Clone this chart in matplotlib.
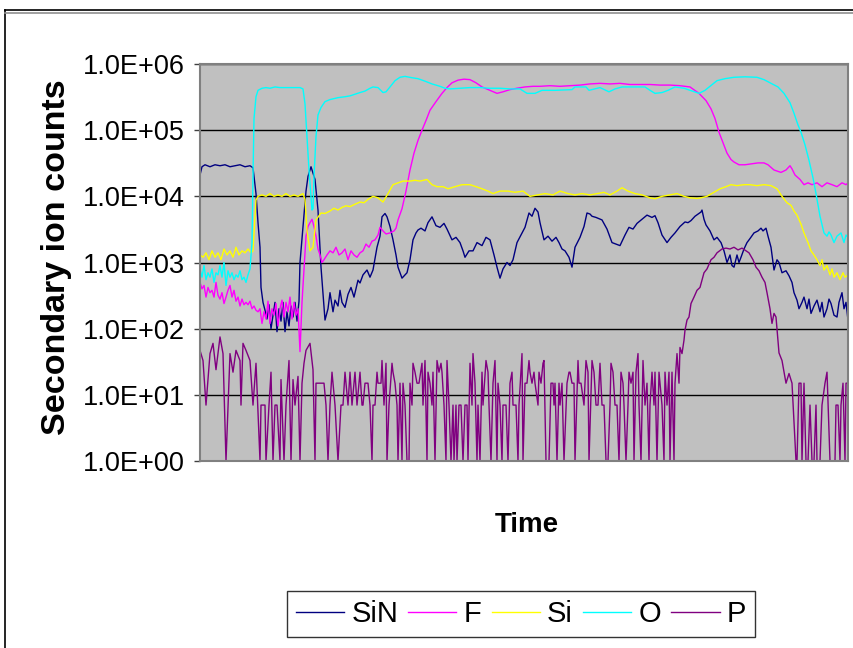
import matplotlib
matplotlib.use('Agg')
import matplotlib.pyplot as plt
from matplotlib.lines import Line2D
from matplotlib.ticker import FixedLocator

plt.rcParams['font.family'] = ['Liberation Sans', 'DejaVu Sans']

# (time, counts) read from the depth profile
sin_pts = [(0, 2.1e4), (2, 2.8e4), (5, 3.0e4), (10, 2.8e4), (15, 3.0e4), (20, 2.9e4), (25, 3.0e4), (30, 2.8e4),
           (35, 2.9e4), (40, 3.0e4), (45, 2.8e4), (50, 2.9e4), (53, 2.7e4), (56, 1.1e4), (58, 4e3), (60, 1.7e3),
           (61, 420), (63, 250), (65, 190), (67, 140), (69, 230), (71, 100), (73, 160), (75, 250), (77, 90),
           (79, 200), (81, 130), (83, 250), (85, 90), (87, 180), (89, 110), (91, 220), (93, 150), (95, 250),
           (97, 130), (99, 260), (100, 1000), (103, 3.4e3), (106, 1.2e4), (108, 2.0e4), (111, 2.8e4), (115, 1.8e4),
           (118, 6.2e3), (121, 850), (125, 135), (128, 200), (130, 350), (133, 180), (135, 270), (138, 220),
           (140, 380), (142, 250), (145, 210), (148, 330), (151, 420), (154, 300), (158, 540), (160, 490),
           (163, 650), (167, 770), (170, 600), (173, 770), (177, 1.7e3), (180, 2.5e3), (182, 4.9e3), (185, 5.5e3),
           (187, 4.9e3), (190, 3.5e3), (193, 2.2e3), (196, 1.3e3), (198, 850), (202, 580), (205, 650), (207, 700),
           (210, 1.1e3), (213, 2.2e3), (216, 2.8e3), (218, 3.1e3), (221, 3.3e3), (225, 3.0e3), (228, 4e3),
           (232, 4.9e3), (236, 3.6e3), (240, 3.4e3), (244, 3.9e3), (247, 3.2e3), (252, 2.2e3), (256, 2.4e3),
           (260, 2.0e3), (263, 1.5e3), (265, 1.2e3), (269, 1.5e3), (273, 1.5e3), (277, 2.0e3), (282, 1.8e3),
           (286, 2.4e3), (290, 2.2e3), (294, 1.3e3), (297, 850), (300, 580), (303, 800), (307, 1e3), (310, 900),
           (313, 1.1e3), (317, 2e3), (321, 2.6e3), (325, 3.4e3), (329, 5.6e3), (332, 5.0e3), (335, 6.6e3),
           (338, 5.8e3), (340, 4e3), (344, 2.2e3), (348, 2.5e3), (352, 2.1e3), (356, 2.4e3), (359, 2e3),
           (362, 1.6e3), (365, 1.5e3), (369, 1.2e3), (372, 850), (375, 1.7e3), (380, 2.4e3), (384, 3.5e3),
           (387, 5.6e3), (390, 5.4e3), (392, 5.0e3), (396, 4.8e3), (402, 4.4e3), (407, 3.2e3), (412, 2e3),
           (416, 1.9e3), (420, 1.8e3), (425, 2.6e3), (429, 3.4e3), (433, 3.2e3), (437, 3.9e3), (442, 4.5e3),
           (447, 5.2e3), (452, 4.8e3), (455, 5.1e3), (458, 4.0e3), (462, 2.6e3), (467, 2e3), (471, 2.4e3),
           (475, 2.8e3), (480, 3.5e3), (485, 4.1e3), (488, 4.0e3), (491, 4.3e3), (495, 5.0e3), (501, 5.8e3),
           (502, 6.2e3), (504, 4.5e3), (506, 3.7e3), (510, 3.0e3), (514, 2.2e3), (517, 2.4e3), (521, 2.0e3),
           (524, 1.5e3), (527, 1.0e3), (530, 1.3e3), (532, 900), (534, 850), (537, 1.3e3), (539, 1.0e3),
           (541, 1.2e3), (544, 1.6e3), (547, 2.0e3), (550, 2.3e3), (554, 2.8e3), (558, 3.0e3), (561, 3.3e3),
           (563, 3.0e3), (566, 3.3e3), (568, 2.5e3), (571, 1.7e3), (574, 770), (577, 1.1e3), (579, 1.0e3),
           (582, 700), (586, 750), (589, 630), (592, 500), (594, 350), (597, 270), (599, 200), (602, 250),
           (604, 300), (607, 200), (609, 280), (611, 170), (614, 220), (617, 270), (620, 180), (622, 250),
           (624, 150), (627, 200), (629, 280), (631, 240), (634, 160), (637, 150), (639, 250), (642, 350),
           (644, 200), (646, 250), (648, 135)]

f_pts = [(0, 500), (2, 400), (4, 450), (6, 300), (8, 420), (10, 350), (12, 380), (14, 300), (16, 500), (18, 320),
         (20, 280), (22, 350), (24, 240), (26, 300), (28, 380), (30, 450), (32, 300), (34, 380), (36, 260),
         (38, 300), (40, 220), (42, 280), (44, 230), (46, 250), (48, 230), (50, 260), (52, 200), (54, 220),
         (56, 190), (58, 180), (60, 200), (62, 120), (64, 180), (66, 140), (68, 260), (70, 120), (72, 200),
         (74, 160), (76, 240), (78, 110), (80, 200), (82, 270), (84, 150), (86, 250), (88, 180), (90, 300),
         (92, 140), (94, 250), (96, 160), (98, 200), (100, 45), (102, 250), (104, 800), (106, 2500), (108, 3500),
         (110, 4000), (112, 4500), (114, 3500), (116, 2500), (118, 1600), (120, 1300), (122, 1000), (124, 1100),
         (127, 1300), (130, 1500), (133, 1400), (136, 1700), (139, 1300), (142, 1400), (145, 1600), (148, 1100),
         (151, 1500), (154, 1300), (157, 1200), (160, 1400), (163, 1500), (166, 1900), (169, 1700), (172, 2100),
         (175, 2200), (178, 2600), (180, 3400), (183, 3000), (186, 2700), (190, 2800), (194, 3000), (196, 3300),
         (198, 4400), (202, 6500), (206, 1.2e4), (210, 2.5e4), (214, 4.5e4), (218, 7e4), (222, 1.0e5),
         (226, 1.4e5), (230, 2.0e5), (236, 2.7e5), (242, 3.6e5), (247, 4.4e5), (252, 5.2e5), (258, 5.7e5),
         (264, 5.9e5), (270, 5.8e5), (276, 5.2e5), (282, 4.5e5), (290, 4.0e5), (297, 3.6e5), (303, 3.8e5),
         (310, 4.1e5), (317, 4.3e5), (325, 4.5e5), (333, 4.6e5), (340, 4.6e5), (350, 4.7e5), (360, 4.6e5),
         (370, 4.7e5), (380, 4.8e5), (390, 5.0e5), (400, 5.1e5), (410, 5.0e5), (420, 5.1e5), (430, 4.9e5),
         (440, 4.9e5), (450, 4.9e5), (460, 4.8e5), (470, 4.8e5), (480, 4.7e5), (490, 4.5e5), (499, 3.6e5),
         (506, 2.8e5), (511, 2.1e5), (515, 1.5e5), (519, 9.3e4), (523, 6.5e4), (527, 4.5e4), (531, 3.6e4),
         (534, 3.3e4), (539, 3.0e4), (545, 3.0e4), (552, 3.1e4), (558, 3.2e4), (564, 3.2e4), (568, 3.0e4),
         (574, 2.5e4), (581, 2.3e4), (586, 2.5e4), (590, 2.9e4), (592, 2.6e4), (595, 2.1e4), (600, 1.8e4),
         (604, 1.5e4), (608, 1.6e4), (612, 1.5e4), (617, 1.6e4), (622, 1.4e4), (627, 1.6e4), (632, 1.5e4),
         (637, 1.4e4), (642, 1.6e4), (646, 1.5e4), (648, 1.6e4)]

si_pts = [(0, 1300), (3, 1200), (6, 1400), (9, 1100), (12, 1500), (15, 1200), (18, 1400), (21, 1100), (24, 1600),
          (27, 1300), (30, 1500), (33, 1200), (36, 1700), (39, 1300), (42, 1500), (45, 1400), (48, 1600),
          (51, 1400), (53, 1500), (55, 5000), (56, 8800), (58, 1.0e4), (62, 1.05e4), (66, 1.0e4), (70, 1.1e4),
          (74, 1.0e4), (78, 1.05e4), (82, 1.0e4), (86, 1.1e4), (90, 1.0e4), (94, 1.05e4), (98, 1.0e4),
          (103, 1.1e4), (105, 9e3), (107, 3e3), (110, 1.5e3), (113, 1.7e3), (116, 4.4e3), (121, 5.6e3),
          (125, 5.5e3), (130, 6.0e3), (134, 6.6e3), (138, 6.2e3), (142, 6.8e3), (146, 7.2e3), (150, 7.0e3),
          (155, 7.6e3), (160, 8.2e3), (164, 8.0e3), (168, 9.0e3), (173, 1.0e4), (178, 9.5e3), (183, 8.2e3),
          (188, 1.1e4), (193, 1.5e4), (198, 1.6e4), (203, 1.7e4), (210, 1.7e4), (215, 1.75e4), (220, 1.7e4),
          (227, 1.8e4), (232, 1.5e4), (237, 1.4e4), (243, 1.4e4), (248, 1.3e4), (255, 1.4e4), (262, 1.5e4),
          (270, 1.5e4), (276, 1.4e4), (282, 1.3e4), (288, 1.2e4), (293, 1.1e4), (300, 1.2e4), (308, 1.2e4),
          (315, 1.15e4), (323, 1.2e4), (330, 1.0e4), (338, 1.05e4), (345, 1.1e4), (353, 1.05e4), (360, 1.2e4),
          (368, 1.1e4), (375, 1.05e4), (382, 1.1e4), (390, 1.05e4), (397, 1.1e4), (404, 1.15e4), (410, 1.05e4),
          (417, 1.2e4), (422, 1.35e4), (428, 1.2e4), (435, 1.1e4), (442, 1.05e4), (450, 9.5e3), (455, 9.2e3),
          (462, 1.0e4), (470, 1.05e4), (477, 1.1e4), (484, 1.0e4), (490, 9.5e3), (497, 9.3e3), (501, 9.5e3),
          (507, 1.0e4), (514, 1.15e4), (520, 1.3e4), (526, 1.4e4), (531, 1.5e4), (537, 1.45e4), (544, 1.5e4),
          (550, 1.5e4), (557, 1.45e4), (564, 1.5e4), (571, 1.45e4), (577, 1.3e4), (582, 1.0e4), (587, 8e3),
          (591, 7.3e3), (594, 6e3), (597, 5.2e3), (601, 3.8e3), (604, 2.8e3), (608, 2.0e3), (611, 1.5e3),
          (614, 1.3e3), (617, 1.1e3), (620, 900), (622, 1.1e3), (624, 770), (627, 900), (630, 650), (632, 800),
          (634, 600), (637, 700), (640, 550), (643, 700), (645, 600), (648, 650)]

o_pts = [(0, 800), (2, 600), (4, 900), (6, 550), (8, 700), (10, 600), (12, 800), (14, 500), (16, 700), (18, 650),
         (20, 900), (22, 600), (24, 1000), (26, 450), (28, 750), (30, 600), (32, 700), (34, 550), (36, 650),
         (38, 600), (40, 750), (42, 550), (44, 600), (46, 500), (48, 650), (50, 800), (52, 2e3), (53, 2e4),
         (54, 1.5e5), (56, 3.2e5), (58, 4.0e5), (62, 4.3e5), (66, 4.4e5), (70, 4.3e5), (75, 4.5e5), (80, 4.4e5),
         (90, 4.4e5), (100, 4.4e5), (103, 4.2e5), (105, 2.5e5), (107, 8e4), (109, 2.5e4), (111, 1e4),
         (112, 6.2e3), (113, 6.5e3), (114, 2e4), (116, 8e4), (118, 1.7e5), (121, 2.2e5), (125, 2.7e5),
         (130, 2.9e5), (138, 3.1e5), (145, 3.2e5), (150, 3.3e5), (155, 3.5e5), (160, 3.7e5), (165, 3.9e5),
         (170, 4.3e5), (173, 4.5e5), (178, 4.4e5), (183, 3.7e5), (186, 3.8e5), (190, 4.5e5), (195, 5.6e5),
         (200, 6.3e5), (205, 6.5e5), (212, 6.2e5), (218, 6.0e5), (225, 5.5e5), (232, 5.0e5), (240, 4.6e5),
         (245, 4.3e5), (250, 4.2e5), (260, 4.3e5), (270, 4.4e5), (280, 4.4e5), (290, 4.3e5), (300, 4.3e5),
         (310, 4.2e5), (320, 4.2e5), (327, 3.6e5), (335, 3.6e5), (342, 4.0e5), (355, 4.0e5), (372, 4.1e5),
         (375, 4.5e5), (386, 4.5e5), (389, 4.0e5), (400, 4.4e5), (409, 3.8e5), (415, 4.2e5), (422, 4.5e5),
         (445, 4.5e5), (450, 4.0e5), (455, 3.6e5), (462, 3.7e5), (468, 4.0e5), (475, 4.5e5), (484, 4.3e5),
         (490, 4.0e5), (499, 3.6e5), (505, 4.0e5), (517, 5.6e5), (525, 6.0e5), (534, 6.3e5), (545, 6.4e5),
         (557, 6.3e5), (564, 5.8e5), (571, 5.1e5), (578, 4.5e5), (584, 3.6e5), (590, 2.6e5), (594, 1.8e5),
         (598, 1.2e5), (601, 9.3e4), (605, 6e4), (609, 3.5e4), (613, 1.9e4), (616, 1.1e4), (620, 5e3),
         (624, 2.8e3), (627, 2.5e3), (629, 2.9e3), (631, 2.6e3), (634, 2.0e3), (637, 2.5e3), (641, 2.8e3),
         (644, 2.0e3), (646, 2.6e3), (648, 2.4e3)]

p_pts = [(0, 47), (3, 33), (6, 7), (10, 42), (13, 60), (16, 24), (20, 75), (23, 42), (26, 1), (30, 42), (33, 22),
         (36, 47), (40, 33), (41, 7), (43, 60), (46, 47), (50, 33), (53, 7), (56, 30), (60, 1), (61, 7), (65, 7),
         (66, 1), (69, 7), (71, 22), (73, 1), (75, 7), (77, 7), (80, 1), (81, 17), (84, 1), (86, 7), (89, 33),
         (91, 1), (93, 17), (95, 7), (98, 19), (100, 1), (102, 15), (104, 30), (106, 47), (110, 60), (113, 24),
         (115, 1), (116, 15), (119, 15), (121, 15), (124, 15), (126, 7), (128, 1), (130, 7), (132, 22), (135, 7),
         (138, 1), (141, 7), (143, 7), (145, 22), (148, 7), (150, 22), (152, 7), (155, 22), (157, 7), (160, 22),
         (162, 7), (163, 7), (165, 15), (168, 15), (170, 7), (172, 1), (173, 7), (175, 7), (177, 22), (178, 15),
         (181, 15), (182, 33), (184, 7), (186, 30), (187, 1), (189, 7), (192, 30), (193, 22), (195, 15), (197, 7),
         (198, 1), (200, 15), (202, 1), (203, 15), (205, 7), (207, 1), (209, 1), (210, 15), (212, 7), (213, 30),
         (215, 22), (217, 15), (219, 15), (222, 30), (223, 7), (225, 33), (227, 1), (228, 22), (230, 15),
         (232, 7), (233, 22), (235, 1), (237, 33), (239, 22), (241, 30), (242, 22), (244, 7), (246, 1), (247, 33),
         (249, 7), (251, 1), (253, 7), (254, 1), (256, 7), (257, 1), (259, 7), (261, 7), (263, 1), (265, 7),
         (267, 7), (268, 1), (270, 30), (272, 7), (273, 42), (275, 15), (277, 1), (278, 7), (280, 1), (282, 22),
         (283, 7), (286, 33), (288, 22), (289, 7), (291, 1), (293, 15), (295, 33), (297, 1), (298, 15), (300, 7),
         (302, 1), (303, 7), (306, 7), (308, 1), (310, 15), (312, 22), (313, 7), (316, 7), (318, 1), (319, 7),
         (322, 42), (323, 1), (325, 15), (327, 15), (329, 33), (330, 22), (332, 15), (334, 22), (335, 15),
         (338, 7), (339, 22), (341, 15), (343, 30), (344, 33), (346, 1), (349, 1), (351, 15), (353, 15), (354, 7),
         (355, 15), (357, 1), (359, 15), (360, 7), (362, 15), (364, 1), (367, 15), (369, 22), (370, 22),
         (372, 15), (374, 15), (375, 1), (378, 33), (379, 15), (381, 15), (384, 7), (386, 33), (388, 22),
         (389, 1), (392, 33), (394, 22), (396, 7), (398, 7), (400, 30), (402, 7), (404, 7), (406, 1), (408, 1),
         (410, 7), (411, 30), (413, 22), (415, 7), (417, 7), (419, 1), (421, 22), (423, 15), (424, 7), (426, 1),
         (428, 7), (429, 22), (431, 15), (433, 22), (434, 1), (436, 22), (438, 42), (439, 7), (441, 1), (443, 33),
         (445, 7), (447, 15), (449, 1), (450, 7), (452, 22), (454, 7), (455, 22), (457, 1), (459, 22), (460, 15),
         (462, 7), (464, 1), (465, 22), (467, 7), (469, 22), (470, 1), (472, 22), (474, 1), (475, 15), (477, 42),
         (479, 15), (480, 52), (482, 42), (484, 67), (485, 95), (487, 135), (489, 150), (491, 240), (494, 300),
         (497, 380), (500, 420), (504, 700), (507, 800), (511, 1100), (514, 1200), (517, 1400), (522, 1600),
         (526, 1650), (530, 1600), (534, 1700), (538, 1550), (542, 1650), (546, 1500), (549, 1400), (553, 1100),
         (556, 850), (559, 750), (562, 600), (565, 500), (567, 350), (570, 200), (572, 120), (574, 170),
         (576, 150), (579, 43), (582, 33), (584, 22), (586, 15), (589, 21), (592, 15), (596, 1), (597, 1),
         (599, 15), (601, 15), (602, 1), (604, 15), (606, 1), (608, 1), (610, 7), (612, 1), (614, 1), (616, 7),
         (617, 1), (620, 1), (622, 7), (625, 15), (627, 22), (630, 1), (632, 1), (635, 1), (636, 7), (638, 7),
         (640, 1), (641, 7), (643, 15), (645, 1), (646, 15), (648, 15)]

series_names = ['SiN', 'F', 'Si', 'O', 'P']
series_colors = ['#000080', '#FF00FF', '#FFFF00', '#00FFFF', '#800080']
series_data = [sin_pts, f_pts, si_pts, o_pts, p_pts]
ytick_vals = [1e0, 1e1, 1e2, 1e3, 1e4, 1e5, 1e6]
ytick_labels = ['1.0E+00', '1.0E+01', '1.0E+02', '1.0E+03', '1.0E+04', '1.0E+05', '1.0E+06']

fig = plt.figure(figsize=(8.54, 6.48), dpi=100)
ax = fig.add_axes([200 / 854, 1 - 461 / 648, 648 / 854, 397 / 648])
ax.set_facecolor('#C0C0C0')

for name, color, pts in zip(series_names, series_colors, series_data):
    t = [p[0] for p in pts]
    v = [p[1] for p in pts]
    ax.plot(t, v, color=color, lw=1.0, label=name)

ax.set_yscale('log')
ax.set_ylim(1, 1e6)
ax.set_xlim(0, 648)
ax.yaxis.set_major_locator(FixedLocator(ytick_vals))
ax.yaxis.set_minor_locator(FixedLocator([]))
ax.set_yticks(ytick_vals)
ax.set_yticklabels(ytick_labels, fontsize=19.5)
ax.set_xticks([])
ax.tick_params(axis='y', length=4, width=1, color='#404040', pad=7)
ax.grid(True, axis='y', color='black', lw=1.0)
ax.set_axisbelow(True)
for sp in ax.spines.values():
    sp.set_color('#808080')
    sp.set_linewidth(1.5)

ax.set_ylabel('Secondary ion counts', fontsize=24.5, fontweight='bold')
ax.yaxis.set_label_coords(-0.198, 0.514)
ax.set_xlabel('Time', fontsize=20, fontweight='bold')
ax.xaxis.set_label_coords(0.505, -0.128)

leg = ax.legend(loc='center', bbox_to_anchor=(521 / 854, 1 - 614 / 648), bbox_transform=fig.transFigure,
                ncol=5, fontsize=21, frameon=True, fancybox=False, handlelength=1.65, handletextpad=0.25,
                columnspacing=0.35, borderpad=0.3)
leg.get_frame().set_edgecolor('black')
leg.get_frame().set_linewidth(1.0)
for line in leg.get_lines():
    line.set_linewidth(1.0)

# outer chart frame (cropped on right and bottom)
fig.add_artist(Line2D([5 / 854, 5 / 854], [0, 1 - 10 / 648], color='black', lw=1.2))
fig.add_artist(Line2D([5 / 854, 1], [1 - 10 / 648, 1 - 10 / 648], color='black', lw=1.2))
fig.add_artist(Line2D([5 / 854, 1], [1 - 13 / 648, 1 - 13 / 648], color='#909090', lw=1.2))

fig.savefig('out.png', dpi=100)
